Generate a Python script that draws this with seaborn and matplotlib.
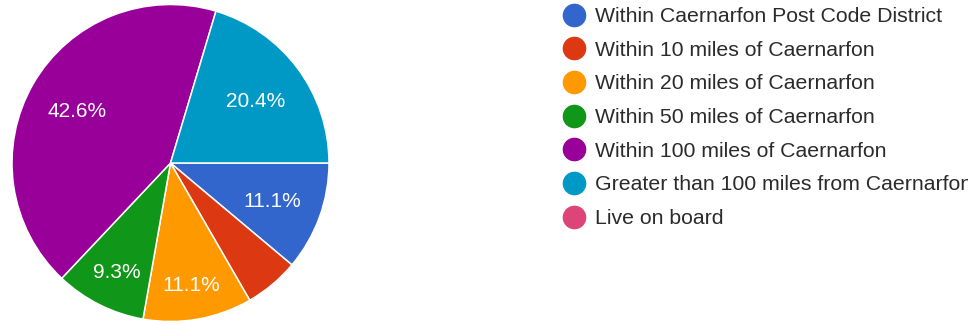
import matplotlib
matplotlib.use("Agg")
import matplotlib.pyplot as plt
from matplotlib.lines import Line2D
import seaborn as sns

categories = [
    "Within Caernarfon Post Code District",
    "Within 10 miles of Caernarfon",
    "Within 20 miles of Caernarfon",
    "Within 50 miles of Caernarfon",
    "Within 100 miles of Caernarfon",
    "Greater than 100 miles from Caernarfon",
    "Live on board",
]
counts = [6, 3, 6, 5, 23, 11, 0]
colors = ["#3366CC", "#DC3912", "#FF9900", "#109618", "#990099", "#0099C6", "#DD4477"]
# style: radial position of the percentage label in each slice (fraction of radius)
label_dist = [0.68, 0.68, 0.77, 0.76, 0.68, 0.67, 0.68]

sns.set_theme(style="white")
plt.rcParams["font.family"] = ["Liberation Sans", "DejaVu Sans"]

W, H, DPI = 968, 325, 100
fig = plt.figure(figsize=(W / DPI, H / DPI), dpi=DPI)
fig.patch.set_facecolor("white")

cx, cy, r = 170.5, 163, 158.5
ax = fig.add_axes([(cx - r) / W, (H - cy - r) / H, 2 * r / W, 2 * r / H])

pal = sns.color_palette(colors)
nz = [(v, col, d) for v, col, d in zip(counts, pal, label_dist) if v > 0]
wedges, texts, autotexts = ax.pie(
    [v for v, _, _ in nz],
    colors=[col for _, col, _ in nz],
    startangle=0,
    counterclock=False,
    autopct=lambda p: f"{p:.1f}%" if p >= 7 else "",
    pctdistance=1.0,
    wedgeprops=dict(edgecolor="white", linewidth=1.1),
    textprops=dict(color="white", fontsize=15),
)
for t, (_, _, d) in zip(autotexts, nz):
    x, y = t.get_position()
    t.set_position((x * d, y * d))
    t.set_va("center_baseline")
ax.set_xlim(-1, 1)
ax.set_ylim(-1, 1)
ax.set_aspect("equal")
ax.axis("off")

handles = [Line2D([], [], marker="o", linestyle="none", markersize=16,
                  markerfacecolor=col, markeredgecolor=col) for col in pal]
leg = fig.legend(handles, categories, loc="upper left",
                 bbox_to_anchor=(563 / W, 1 - 7 / H), frameon=False,
                 fontsize=15.3, labelspacing=0.69, handlelength=1.0,
                 handletextpad=0.49, borderpad=0.0, borderaxespad=0.0)
for t in leg.get_texts():
    t.set_color("#2b2b2b")

fig.savefig("out.png", dpi=DPI)
